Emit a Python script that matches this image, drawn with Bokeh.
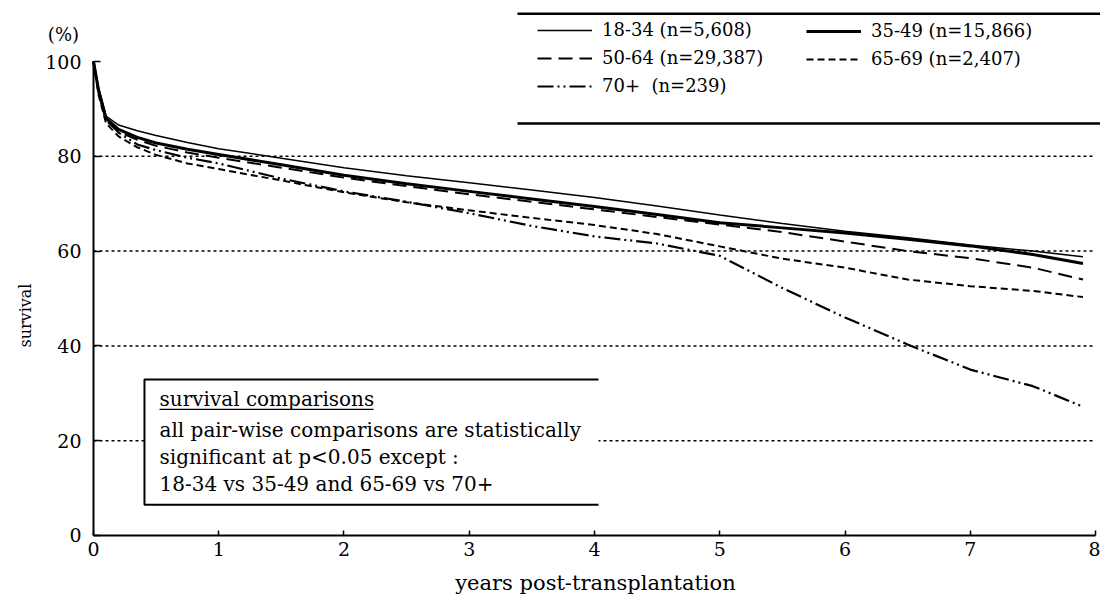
import math
from bokeh.plotting import figure
from bokeh.models import Range1d, FixedTicker, Legend, LegendItem, Label, BoxAnnotation
from bokeh.embed import file_html
from bokeh.resources import INLINE

# ---------------- data ----------------
years = [0, 0.04, 0.1, 0.2, 0.35, 0.5, 0.75, 1, 1.5, 2, 2.5, 3, 3.5, 4, 4.5,
         5, 5.5, 6, 6.5, 7, 7.5, 7.9]
surv_18_34 = [100, 94.5, 88.5, 86.6, 85.4, 84.4, 82.9, 81.6, 79.6, 77.6, 75.9, 74.4,
              72.9, 71.3, 69.5, 67.6, 65.8, 64.2, 62.8, 61.3, 60.0, 58.8]
surv_35_49 = [100, 94.0, 88.0, 85.7, 84.0, 82.8, 81.5, 80.4, 78.2, 76.0, 74.2, 72.6,
              71.0, 69.4, 67.7, 66.0, 64.9, 63.8, 62.5, 61.1, 59.3, 57.4]
surv_50_64 = [100, 93.5, 87.5, 85.2, 83.5, 82.2, 80.8, 79.7, 77.6, 75.5, 73.7, 72.0,
              70.4, 68.8, 67.2, 65.6, 64.0, 62.0, 60.0, 58.5, 56.5, 54.0]
surv_65_69 = [100, 93.0, 87.0, 84.2, 81.9, 80.3, 78.5, 77.3, 74.9, 72.4, 70.3, 68.6,
              67.0, 65.5, 63.6, 61.0, 58.4, 56.5, 54.0, 52.6, 51.6, 50.3]
surv_70_up = [100, 94.0, 88.0, 85.0, 82.5, 81.3, 79.7, 78.5, 75.3, 72.6, 70.4, 68.0,
              65.3, 63.1, 61.6, 59.0, 52.2, 46.0, 40.3, 35.0, 31.5, 27.2]

group_labels = ["18-34 (n=5,608)", "35-49 (n=15,866)", "50-64 (n=29,387)",
                "65-69 (n=2,407)", "70+  (n=239)"]
x_ticks = [0, 1, 2, 3, 4, 5, 6, 7, 8]
y_ticks = [0, 20, 40, 60, 80, 100]
grid_ticks = [20, 40, 60, 80]

box_lines = ["survival comparisons",
             "all pair-wise comparisons are statistically",
             "significant at p<0.05 except :",
             "18-34 vs 35-49 and 65-69 vs 70+"]

FONT = "DejaVu Serif"
INK = "black"

# ---------------- figure: the frame covers the whole canvas ----------------
X_START, X_END = -0.7425, 8.0399
Y_START, Y_END = -12.66, 112.87
p = figure(width=1100, height=595,
           x_range=Range1d(X_START, X_END), y_range=Range1d(Y_START, Y_END),
           output_backend="svg", toolbar_location=None,
           min_border_left=0, min_border_right=0, min_border_top=0, min_border_bottom=0)
p.outline_line_color = None
p.background_fill_color = "white"
p.xgrid.visible = False
p.ygrid.visible = False

# axes placed at the data origin
p.xaxis.fixed_location = 0
p.xaxis.ticker = FixedTicker(ticks=x_ticks)
p.xaxis.bounds = (0, 8)
p.xaxis.axis_line_width = 2
p.xaxis.axis_line_color = INK
p.xaxis.major_tick_in = 5
p.xaxis.major_tick_out = 0
p.xaxis.major_tick_line_width = 1.5
p.xaxis.major_tick_line_color = INK
p.xaxis.minor_tick_line_color = None
p.xaxis.major_label_text_font = FONT
p.xaxis.major_label_text_font_size = "19px"
p.xaxis.major_label_text_color = INK
p.xaxis.major_label_standoff = 7

p.yaxis.fixed_location = 0
p.yaxis.ticker = FixedTicker(ticks=y_ticks)
p.yaxis.bounds = (0, 100)
p.yaxis.axis_line_width = 2
p.yaxis.axis_line_color = INK
p.yaxis.major_tick_in = 7
p.yaxis.major_tick_out = 0
p.yaxis.major_tick_line_width = 1.5
p.yaxis.major_tick_line_color = INK
p.yaxis.minor_tick_line_color = None
p.yaxis.major_label_text_font = FONT
p.yaxis.major_label_text_font_size = "19px"
p.yaxis.major_label_text_color = INK
p.yaxis.major_label_standoff = 12

# dotted reference lines
p.segment(x0=[0] * len(grid_ticks), x1=[8] * len(grid_ticks), y0=grid_ticks, y1=grid_ticks,
          line_color=INK, line_width=1.5, line_dash="3 3")

# curves
r1 = p.line(years, surv_18_34, line_color=INK, line_width=1.5)
r2 = p.line(years, surv_35_49, line_color=INK, line_width=3)
r3 = p.line(years, surv_50_64, line_color=INK, line_width=2, line_dash="14 7")
r4 = p.line(years, surv_65_69, line_color=INK, line_width=2, line_dash="7 4")
r5 = p.line(years, surv_70_up, line_color=INK, line_width=2.2, line_dash="16 4 2 4 2 4")

# legend (two columns)
def make_legend(items, loc):
    lg = Legend(items=items, location=loc, orientation="vertical")
    lg.label_text_font = FONT
    lg.label_text_font_size = "18px"
    lg.label_text_color = INK
    lg.glyph_width = 55
    lg.glyph_height = 20
    lg.label_height = 20
    lg.label_standoff = 10
    lg.spacing = 7
    lg.padding = 0
    lg.margin = 0
    lg.border_line_color = None
    lg.background_fill_alpha = 0
    return lg

leg1 = make_legend([LegendItem(label=group_labels[0], renderers=[r1]),
                    LegendItem(label=group_labels[2], renderers=[r3]),
                    LegendItem(label=group_labels[4], renderers=[r5])], (537, 499))
leg2 = make_legend([LegendItem(label=group_labels[1], renderers=[r2]),
                    LegendItem(label=group_labels[3], renderers=[r4])], (806, 526))
p.add_layout(leg1)
p.add_layout(leg2)

# legend rules (top / bottom)
p.segment(x0=[3.385, 3.385], y0=[110.1, 86.9], x1=[X_END, X_END], y1=[110.1, 86.9],
          line_color=INK, line_width=2.5)

# comparison box
BX0, BX1, BY0, BY1 = 0.407, 4.032, 6.5, 32.9
p.add_layout(BoxAnnotation(left=BX0, right=BX1, bottom=BY0, top=BY1,
                           fill_color="white", fill_alpha=1, line_color=None))
p.line(x=[BX1, BX0, BX0, BX1], y=[BY1, BY1, BY0, BY0],
       line_color=INK, line_width=2, level="overlay")
box_y = [28.9, 22.2, 16.5, 10.8]
for txt, yy in zip(box_lines, box_y):
    p.add_layout(Label(x=0.527, y=yy, text=txt, text_font=FONT, text_font_size="20px",
                       text_baseline="middle", text_align="left", text_color=INK))
p.segment(x0=[0.527], y0=[26.6], x1=[2.236], y1=[26.6], line_color=INK,
          line_width=1.3, level="overlay")

# axis titles
p.add_layout(Label(x=-0.24, y=105.7, text="(%)", text_font=FONT, text_font_size="18px",
                   text_align="center", text_baseline="middle", text_color=INK))
p.add_layout(Label(x=-0.5429, y=46.4, text="survival", text_font=FONT, text_font_size="16px",
                   text_align="center", text_baseline="middle", angle=math.pi / 2,
                   text_color=INK))
p.add_layout(Label(x=4.008, y=-10.1, text="years post-transplantation", text_font=FONT,
                   text_font_size="21px", text_align="center", text_baseline="middle",
                   text_color=INK))

open("out.html", "w").write(file_html(p, INLINE))
